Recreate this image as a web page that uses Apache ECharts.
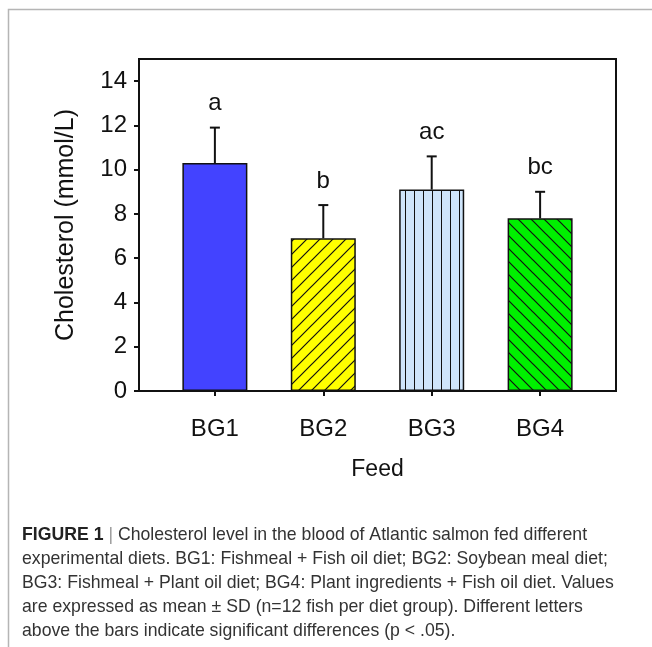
<!DOCTYPE html>
<html>
<head>
<meta charset="utf-8">
<script src="https://cdn.jsdelivr.net/npm/echarts@6/dist/echarts.min.js"></script>
<style>
  * { margin: 0; padding: 0; }
  html, body { background: #fff; }
  #chart { width: 652px; height: 647px; }
</style>
</head>
<body>
<div id="chart"></div>
<script>
// data
var feeds = ['BG1', 'BG2', 'BG3', 'BG4'];
var cholMean = [10.3, 6.9, 9.1, 7.8];
var cholSD = [1.6, 1.5, 1.5, 1.2];
var sigLetters = ['a', 'b', 'ac', 'bc'];
var yTicks = [0, 2, 4, 6, 8, 10, 12, 14];
var captionLines = [
  ' Cholesterol level in the blood of Atlantic salmon fed different',
  'experimental diets. BG1: Fishmeal + Fish oil diet; BG2: Soybean meal diet;',
  'BG3: Fishmeal + Plant oil diet; BG4: Plant ingredients + Fish oil diet. Values',
  'are expressed as mean \u00b1 SD (n=12 fish per diet group). Different letters',
  'above the bars indicate significant differences (p < .05).'
];

// small canvas tiles for the hatch fills
function tile(bg, kind, s) {
  var c = document.createElement('canvas');
  c.width = s; c.height = s;
  var g = c.getContext('2d');
  g.fillStyle = bg;
  g.fillRect(0, 0, s, s);
  g.strokeStyle = '#111';
  g.lineWidth = 1.2;
  g.beginPath();
  if (kind === 'up') {
    g.moveTo(-1, s + 1); g.lineTo(s + 1, -1);
    g.moveTo(-2, 2); g.lineTo(2, -2);
    g.moveTo(s - 2, s + 2); g.lineTo(s + 2, s - 2);
  } else if (kind === 'down') {
    g.moveTo(-1, -1); g.lineTo(s + 1, s + 1);
    g.moveTo(s - 2, -2); g.lineTo(s + 2, 2);
    g.moveTo(-2, s - 2); g.lineTo(2, s + 2);
  } else if (kind === 'vert') {
    g.lineWidth = 1;
    g.moveTo(0.5, 0); g.lineTo(0.5, s);
  }
  g.stroke();
  return c;
}

var fills = [
  '#4343ff',
  { image: tile('#ffff00', 'up', 13), repeat: 'repeat' },
  { image: tile('#cfe5fb', 'vert', 9), repeat: 'repeat' },
  { image: tile('#00f000', 'down', 13), repeat: 'repeat' }
];

var font = '"Liberation Sans", Arial, sans-serif';
var chart = echarts.init(document.getElementById('chart'));

var captionText = [];
captionLines.forEach(function (l, i) {
  if (i === 0) captionText.push('{b|FIGURE 1} {s||}' + l);
  else captionText.push(l);
});

chart.setOption({
  animation: false,
  grid: {
    left: 139, top: 59, right: 36, bottom: 256,
    show: true, borderColor: '#111', borderWidth: 2
  },
  xAxis: {
    type: 'value',
    min: 0.3, max: 4.7,
    splitLine: { show: false },
    axisLine: { lineStyle: { color: '#111', width: 2 } },
    axisTick: { show: true, length: 5, customValues: [1, 2, 3, 4], lineStyle: { color: '#111', width: 2 } },
    axisLabel: {
      customValues: [1, 2, 3, 4],
      formatter: function (v) { return feeds[Math.round(v) - 1]; },
      color: '#111', fontSize: 24, fontFamily: font, margin: 26
    },
    name: 'Feed',
    nameLocation: 'middle',
    nameGap: 67,
    nameTextStyle: { color: '#111', fontSize: 23, fontFamily: font }
  },
  yAxis: {
    type: 'value',
    min: 0, max: 15,
    splitLine: { show: false },
    axisLine: { show: true, lineStyle: { color: '#111', width: 2 } },
    axisTick: { show: true, length: 5, customValues: yTicks, lineStyle: { color: '#111', width: 2 } },
    axisLabel: { customValues: yTicks, color: '#111', fontSize: 24, fontFamily: font, margin: 12 },
    name: 'Cholesterol (mmol/L)',
    nameLocation: 'middle',
    nameGap: 60,
    nameTextStyle: { color: '#111', fontSize: 25, fontFamily: font }
  },
  series: [
    {
      type: 'bar',
      barWidth: 65,
      data: cholMean.map(function (v, i) {
        return { value: [i + 1, v], itemStyle: { color: fills[i] } };
      }),
      itemStyle: { borderColor: '#111', borderWidth: 1.5 }
    },
    {
      type: 'custom',
      z: 5,
      data: cholMean.map(function (v, i) { return [i + 1, v, v + cholSD[i]]; }),
      renderItem: function (params, api) {
        var lo = api.coord([api.value(0), api.value(1)]);
        var hi = api.coord([api.value(0), api.value(2)]);
        var st = { stroke: '#111', lineWidth: 2 };
        return {
          type: 'group',
          children: [
            { type: 'line', shape: { x1: lo[0], y1: lo[1], x2: hi[0], y2: hi[1] }, style: st },
            { type: 'line', shape: { x1: hi[0] - 5, y1: hi[1], x2: hi[0] + 5, y2: hi[1] }, style: st },
            {
              type: 'text',
              x: hi[0], y: hi[1] - 12,
              style: {
                text: sigLetters[params.dataIndex],
                fill: '#111', font: '24px ' + font,
                align: 'center', verticalAlign: 'bottom'
              }
            }
          ]
        };
      }
    }
  ],
  graphic: [
    {
      type: 'polyline',
      shape: { points: [[8.5, 647], [8.5, 9.5], [652, 9.5]] },
      style: { stroke: '#b5b5b5', lineWidth: 1.5, fill: null },
      silent: true
    },
    {
      type: 'text',
      x: 22, y: 523,
      scaleX: 0.93,
      style: {
        text: captionText.join('\n'),
        fill: '#333',
        font: '19px ' + font,
        lineHeight: 24,
        rich: {
          b: { fontWeight: 'bold', fill: '#222', fontSize: 19, fontFamily: font },
          s: { fill: '#999', fontSize: 19 }
        }
      }
    }
  ]
});
</script>
</body>
</html>
